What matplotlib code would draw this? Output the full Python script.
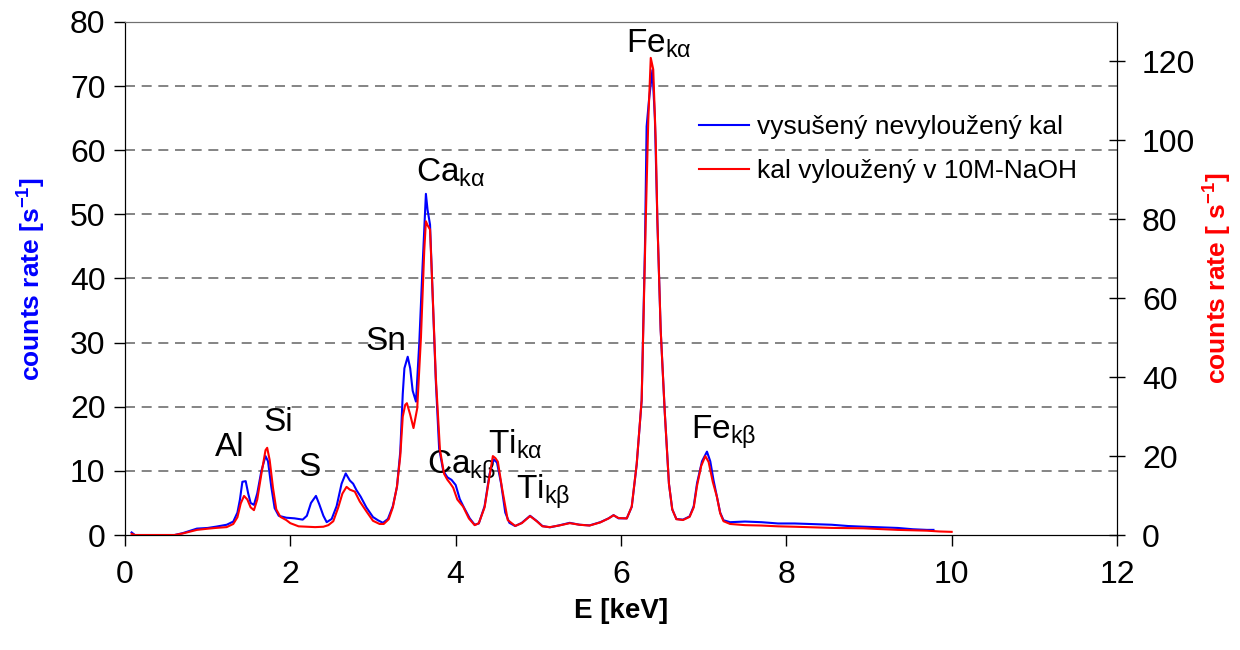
import matplotlib
matplotlib.use("Agg")
import matplotlib.pyplot as plt

plt.rcParams['font.family'] = ['Liberation Sans', 'DejaVu Sans']
plt.rcParams['mathtext.fontset'] = 'custom'
plt.rcParams['mathtext.rm'] = 'Liberation Sans'
plt.rcParams['mathtext.bf'] = 'Liberation Sans:bold'
plt.rcParams['mathtext.it'] = 'Liberation Sans:italic'

# --- data: dried, not leached sludge (left axis, counts/s) ---
blue_E = [0.08, 0.12, 0.60, 0.70, 0.87, 1.00, 1.10, 1.23, 1.31, 1.36, 1.39, 1.42, 1.46, 1.49,
          1.52, 1.56, 1.60, 1.65, 1.70, 1.73, 1.77, 1.81, 1.86, 1.95, 2.05, 2.15, 2.20, 2.25,
          2.31, 2.35, 2.40, 2.44, 2.50, 2.56, 2.62, 2.67, 2.72, 2.76, 2.80, 2.85, 2.92, 3.00,
          3.06, 3.12, 3.18, 3.24, 3.29, 3.33, 3.36, 3.38, 3.42, 3.45, 3.48, 3.52, 3.56, 3.60,
          3.64, 3.66, 3.69, 3.72, 3.76, 3.80, 3.85, 3.90, 3.95, 4.00, 4.05, 4.10, 4.17, 4.23,
          4.28, 4.35, 4.41, 4.46, 4.50, 4.55, 4.60, 4.65, 4.72, 4.80, 4.90, 4.98, 5.05, 5.14,
          5.25, 5.38, 5.50, 5.62, 5.75, 5.85, 5.91, 5.97, 6.07, 6.13, 6.19, 6.25, 6.29, 6.31,
          6.34, 6.38, 6.41, 6.44, 6.48, 6.53, 6.58, 6.62, 6.67, 6.75, 6.83, 6.88, 6.92, 6.98,
          7.04, 7.08, 7.12, 7.16, 7.20, 7.24, 7.32, 7.50, 7.70, 7.90, 8.10, 8.33, 8.55, 8.75,
          8.93, 9.15, 9.35, 9.53, 9.70, 9.78]
blue_v = [0.4, 0.0, 0.0, 0.3, 1.0, 1.1, 1.3, 1.6, 2.1, 3.5, 5.5, 8.3, 8.4, 6.5,
          5.0, 4.7, 6.5, 10.0, 12.3, 11.5, 7.5, 4.2, 3.0, 2.7, 2.6, 2.4, 3.0, 5.0,
          6.1, 4.8, 3.0, 2.0, 2.5, 4.5, 8.0, 9.6, 8.5, 8.0, 7.0, 6.0, 4.3, 2.8,
          2.3, 1.9, 2.5, 4.5, 7.5, 13.0, 22.0, 26.0, 27.8, 26.0, 22.5, 20.8, 30.0, 42.0,
          53.2, 50.7, 48.4, 38.0, 24.0, 13.5, 10.0, 9.0, 8.6, 7.8, 5.6, 4.3, 2.6, 1.6,
          1.8, 4.5, 9.5, 11.8, 11.3, 8.0, 3.5, 1.9, 1.4, 1.9, 3.0, 2.2, 1.4, 1.2,
          1.5, 1.9, 1.6, 1.5, 2.0, 2.6, 3.1, 2.6, 2.6, 4.4, 11.0, 21.0, 45.0, 63.7,
          68.0, 72.5, 65.0, 49.0, 32.0, 19.0, 8.0, 4.0, 2.5, 2.4, 2.9, 4.5, 8.1, 11.5,
          13.0, 11.5, 8.5, 6.0, 3.5, 2.3, 2.0, 2.1, 2.0, 1.8, 1.8, 1.7, 1.6, 1.4,
          1.3, 1.2, 1.1, 0.9, 0.8, 0.8]

# --- data: sludge leached in 10M NaOH (right axis, counts/s) ---
red_E = [0.08, 0.12, 0.60, 0.70, 0.87, 1.00, 1.10, 1.23, 1.31, 1.36, 1.40, 1.44, 1.48, 1.52,
         1.56, 1.60, 1.65, 1.70, 1.72, 1.75, 1.79, 1.83, 1.88, 1.95, 2.00, 2.10, 2.20, 2.30,
         2.40, 2.46, 2.52, 2.58, 2.63, 2.68, 2.72, 2.78, 2.84, 2.92, 3.00, 3.08, 3.13, 3.19,
         3.24, 3.29, 3.33, 3.36, 3.39, 3.41, 3.45, 3.49, 3.535, 3.58, 3.62, 3.64, 3.66, 3.69,
         3.72, 3.76, 3.81, 3.86, 3.90, 3.93, 3.97, 4.02, 4.09, 4.16, 4.23, 4.28, 4.35, 4.41,
         4.45, 4.48, 4.51, 4.56, 4.63, 4.72, 4.80, 4.90, 4.98, 5.05, 5.14, 5.25, 5.38, 5.50,
         5.62, 5.75, 5.85, 5.91, 5.97, 6.07, 6.13, 6.19, 6.25, 6.30, 6.33, 6.36, 6.39, 6.42,
         6.44, 6.48, 6.53, 6.58, 6.62, 6.67, 6.75, 6.83, 6.88, 6.92, 6.97, 7.02, 7.06, 7.11,
         7.16, 7.20, 7.24, 7.32, 7.50, 7.70, 7.90, 8.10, 8.33, 8.55, 8.75, 8.93, 9.15, 9.35,
         9.53, 9.70, 9.85, 10.00]
red_r = [0.3, 0.0, 0.0, 0.4, 1.3, 1.6, 1.8, 2.0, 2.8, 4.5, 8.0, 9.9, 9.0, 7.0,
         6.3, 9.0, 15.5, 21.5, 22.1, 19.0, 12.0, 6.5, 4.6, 3.8, 3.0, 2.2, 2.1, 2.0,
         2.1, 2.5, 3.5, 7.0, 10.5, 12.2, 11.5, 11.0, 8.5, 6.0, 3.6, 2.8, 2.8, 4.0,
         7.0, 12.3, 20.0, 30.0, 33.0, 33.4, 30.5, 27.1, 32.1, 50.0, 72.0, 79.5, 78.5, 77.4,
         62.0, 40.0, 21.6, 15.5, 14.0, 13.2, 12.0, 9.0, 7.2, 4.2, 2.5, 3.0, 7.0, 15.0,
         20.0, 19.5, 18.6, 12.0, 3.8, 2.3, 3.0, 4.8, 3.5, 2.2, 2.0, 2.4, 3.0, 2.6,
         2.4, 3.2, 4.2, 5.0, 4.3, 4.2, 7.2, 18.0, 34.2, 80.0, 105.0, 120.9, 118.0, 100.0,
         80.0, 52.0, 31.0, 13.0, 6.5, 4.0, 3.8, 4.6, 7.0, 12.5, 17.5, 20.0, 18.5, 13.5,
         9.7, 5.5, 3.5, 2.8, 2.5, 2.4, 2.2, 2.1, 1.95, 1.8, 1.75, 1.7, 1.5, 1.3,
         1.2, 1.1, 0.9, 0.8]

# --- peak labels (E, left-axis value) ---
peak_text = ['Al', 'Si', 'S', 'Sn']
peak_E = [1.27, 1.86, 2.23, 3.15]
peak_y = [13.6, 17.5, 10.5, 30.1]
line_text = [r'Ca$_{\mathrm{kα}}$', r'Ca$_{\mathrm{kβ}}$', r'Ti$_{\mathrm{kα}}$',
             r'Ti$_{\mathrm{kβ}}$', r'Fe$_{\mathrm{kα}}$', r'Fe$_{\mathrm{kβ}}$']
line_E = [3.52, 3.65, 4.39, 4.73, 6.06, 6.85]
line_y = [56.5, 10.6, 14.2, 6.7, 76.6, 16.1]

fig = plt.figure(figsize=(12.4, 6.5), dpi=100)
ax = fig.add_axes([0.1008, 0.1769, 0.8, 0.7893])
ax2 = ax.twinx()

l1, = ax.plot(blue_E, blue_v, color='#0000ff', lw=1.5)
l2, = ax2.plot(red_E, red_r, color='#ff0000', lw=1.5)

ax.set_xlim(0, 12)
ax.set_ylim(0, 80)
ax2.set_ylim(0, 130)
ax.set_xticks(range(0, 13, 2))
ax.set_yticks(range(0, 81, 10))
ax2.set_yticks(range(0, 121, 20))

for y in range(10, 80, 10):
    ax.axhline(y, color='#707070', lw=1.2, ls=(0, (6, 4)), zorder=0)

for a in (ax, ax2):
    a.spines['top'].set_color('#707070')
ax.tick_params(axis='both', labelsize=23, length=8, width=1, direction='out')
ax.tick_params(axis='y', pad=6)
ax.tick_params(axis='x', pad=10)
ax2.tick_params(axis='y', labelsize=23, length=12, width=1, direction='inout', pad=12)

ax.set_xlabel('E [keV]', fontsize=20, fontweight='bold', labelpad=6)
ax.set_ylabel(r'counts rate [s$^{\mathbf{-1}}$]', fontsize=19, fontweight='bold', color='#0000ff')
ax.yaxis.set_label_coords(-0.078, 0.5)
ax2.set_ylabel(r'counts rate [ s$^{\mathbf{-1}}$]', fontsize=19, fontweight='bold', color='#ff0000')
ax2.yaxis.set_label_coords(1.085, 0.5)

for t, x, y in zip(peak_text, peak_E, peak_y):
    ax.text(x, y, t, fontsize=24, ha='center', va='center')
for t, x, y in zip(line_text, line_E, line_y):
    ax.text(x, y, t, fontsize=24, ha='left', va='center')

ax2.legend([l1, l2], ['vysušený nevyloužený kal', 'kal vyloužený v 10M-NaOH'],
           loc='upper left', bbox_to_anchor=(0.555, 0.865), frameon=False,
           fontsize=19, handlelength=1.9, handletextpad=0.3, labelspacing=0.75)

fig.savefig('out.png', dpi=100)
